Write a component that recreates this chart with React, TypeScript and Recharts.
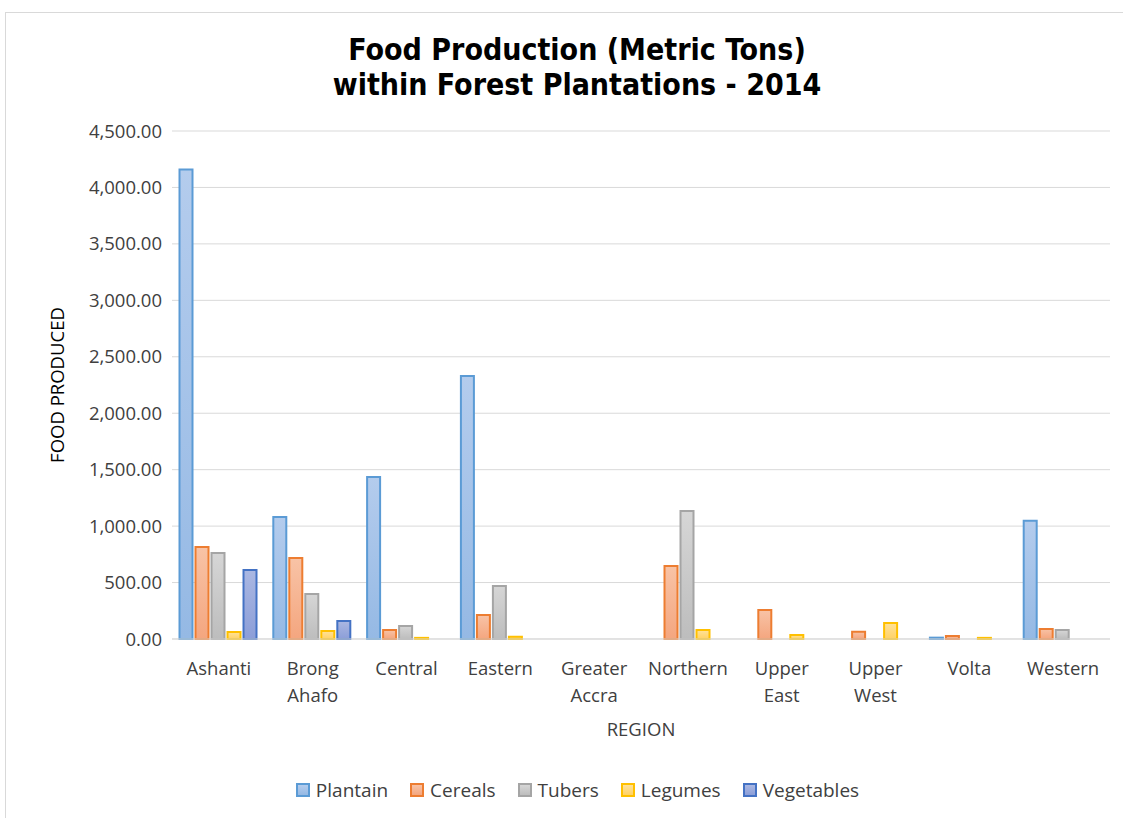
import React from 'react';
import { ComposedChart, Bar, XAxis, YAxis, CartesianGrid, Legend } from 'recharts';

const regions = ['Ashanti', 'Brong Ahafo', 'Central', 'Eastern', 'Greater Accra', 'Northern', 'Upper East', 'Upper West', 'Volta', 'Western'];
const plantain = [4160, 1080, 1435, 2330, 0, 0, 0, 0, 12, 1048];
const cereals = [815, 717, 80, 212, 0, 647, 257, 65, 27, 89];
const tubers = [762, 399, 115, 469, 0, 1134, 0, 0, 0, 80];
const legumes = [62, 71, 10, 20, 0, 80, 35, 142, 10, 0];
const vegetables = [611, 159, 0, 0, 0, 0, 0, 0, 0, 0];
const yTicks = [0, 500, 1000, 1500, 2000, 2500, 3000, 3500, 4000, 4500];

const seriesDefs = [
  { key: 'Plantain', values: plantain, stroke: '#5b9bd5', top: '#b4cced', bottom: '#95b9e4' },
  { key: 'Cereals', values: cereals, stroke: '#ed7d31', top: '#f8c3a6', bottom: '#f4a67f' },
  { key: 'Tubers', values: tubers, stroke: '#a5a5a5', top: '#d6d6d6', bottom: '#bdbdbd' },
  { key: 'Legumes', values: legumes, stroke: '#ffc000', top: '#ffe29a', bottom: '#ffd266' },
  { key: 'Vegetables', values: vegetables, stroke: '#4472c4', top: '#aab7e2', bottom: '#8c9ed8' },
];

const data = regions.map((r, i) => {
  const row: any = { region: r };
  seriesDefs.forEach((s) => { row[s.key] = s.values[i]; });
  return row;
});

const FONT = '"Open Sans", "Noto Sans", sans-serif';
const FS = 18.5;

const fmt = (v: number) => v.toLocaleString('en-US', { minimumFractionDigits: 2, maximumFractionDigits: 2 });

const XTick = (props: any) => {
  const { x, y, payload } = props;
  const words = String(payload.value).split(' ');
  return (
    <g transform={`translate(${x},${y})`}>
      <text textAnchor="middle" fill="#404040" fontSize={FS} fontFamily={FONT}>
        {words.map((w, i) => (
          <tspan key={i} x={0} dy={i === 0 ? 28 : 27}>{w}</tspan>
        ))}
      </text>
    </g>
  );
};

const LegendContent = () => (
  <div style={{ display: 'flex', justifyContent: 'center', height: 24, paddingBottom: 6, alignItems: 'center', fontFamily: FONT, fontSize: 19, color: '#404040', paddingLeft: 27 }}>
    {seriesDefs.map((s) => (
      <div key={s.key} style={{ display: 'flex', alignItems: 'center', marginRight: 22 }}>
        <span style={{ display: 'inline-block', width: 10, height: 10, border: `2px solid ${s.stroke}`, background: `linear-gradient(${s.top}, ${s.bottom})`, marginRight: 6 }} />
        <span>{s.key}</span>
      </div>
    ))}
  </div>
);

export default function App() {
  return (
    <div style={{ position: 'absolute', left: 0, top: 0, width: 1123, height: 818, background: '#fff', overflow: 'hidden' }}>
      <div style={{ position: 'absolute', left: 5, top: 12, width: 1140, height: 830, border: '1px solid #d9d9d9', boxSizing: 'border-box' }} />
      <div style={{ position: 'absolute', left: 0, top: 32, width: 1154, textAlign: 'center', fontFamily: '"DejaVu Sans Condensed", "DejaVu Sans", sans-serif', fontWeight: 'bold', fontSize: 30, lineHeight: '35px', color: '#000' }}>
        <div>Food Production (Metric Tons)</div>
        <div>within Forest Plantations - 2014</div>
      </div>
      <div style={{ position: 'absolute', left: 0, top: 0 }}>
        <ComposedChart width={1123} height={818} data={data} margin={{ top: 131, right: 13, left: 40, bottom: 10 }} barCategoryGap="8%" barGap={3}>
          <defs>
            {seriesDefs.map((s) => (
              <linearGradient key={s.key} id={`g-${s.key}`} x1="0" y1="0" x2="0" y2="1">
                <stop offset="0%" stopColor={s.top} />
                <stop offset="100%" stopColor={s.bottom} />
              </linearGradient>
            ))}
          </defs>
          <CartesianGrid vertical={false} stroke="#d9d9d9" strokeWidth={1} />
          <XAxis
            dataKey="region"
            interval={0}
            height={139}
            tick={<XTick />}
            tickLine={false}
            axisLine={{ stroke: '#d9d9d9' }}
            label={{ value: 'REGION', position: 'insideBottom', offset: 42, fill: '#404040', fontSize: FS, fontFamily: FONT }}
          />
          <YAxis
            width={132}
            domain={[0, 4500]}
            ticks={yTicks}
            tickFormatter={fmt}
            tickLine={false}
            axisLine={false}
            tick={{ fill: '#404040', fontSize: FS, fontFamily: FONT, dx: -2 }}
            label={{ value: 'FOOD PRODUCED', angle: -90, position: 'insideLeft', offset: 17, fill: '#000', fontSize: FS, fontFamily: FONT, style: { textAnchor: 'middle' } }}
          />
          <Legend verticalAlign="bottom" height={30} content={<LegendContent />} />
          {seriesDefs.map((s) => (
            <Bar key={s.key} dataKey={s.key} fill={`url(#g-${s.key})`} stroke={s.stroke} strokeWidth={2} isAnimationActive={false} />
          ))}
        </ComposedChart>
      </div>
    </div>
  );
}
